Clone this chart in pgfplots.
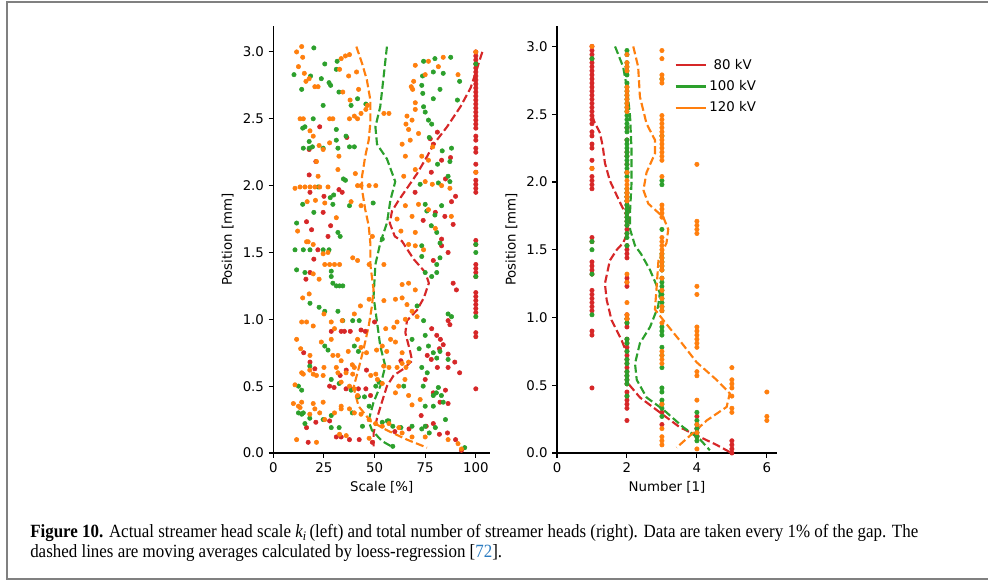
\documentclass[border=0pt]{standalone}
\usepackage{pgfplots}
\pgfplotsset{compat=1.18}
\usepackage{fontspec}
\usepackage{graphicx}
\setmainfont{DejaVu Sans}
\newfontfamily\capfont{Liberation Serif}
\definecolor{c80}{HTML}{D62728}
\definecolor{c100}{HTML}{2CA02C}
\definecolor{c120}{HTML}{FF7F0E}
\definecolor{framegray}{HTML}{808080}
\definecolor{linkblue}{HTML}{2B7BC0}
\pgfplotsset{
  myax/.style={
    scale only axis,
    axis x line*=bottom, axis y line*=left,
    tick align=outside,
    major tick length=3.5pt,
    every tick/.style={black, line width=0.8pt},
    axis line style={black, line width=0.8pt},
    tick label style={font=\fontsize{10}{12}\selectfont},
    label style={font=\fontsize{10}{12}\selectfont},
    ymin=0,
    ytick={0,0.5,1,1.5,2,2.5,3},
    yticklabels={0.0,0.5,1.0,1.5,2.0,2.5,3.0},
    ylabel={Position [mm]},
    height=320.25pt,
  },
  pts/.style={only marks, mark=*, mark size=1.65pt, color=#1, forget plot},
  loess/.style={color=#1, line width=1.6pt, dash pattern=on 6pt off 2.6pt, forget plot},
}
\begin{document}
\begin{tikzpicture}
\useasboundingbox (0,0) rectangle (741pt,435.75pt);
% frame
\draw[framegray, line width=1.5pt] (745pt,434.5pt) -- (5.5pt,434.5pt) -- (5.5pt,1.6pt) -- (745pt,1.6pt);

% ---------------- left panel ----------------
\begin{axis}[myax, at={(205pt,96pt)}, anchor=origin, width=162.5pt,
  xmin=0, xmax=107, ymax=3.194,
  xtick={0,25,50,75,100}, xticklabels={0,25,50,75,100},
  xlabel={Scale [\%]}]
% 80 kV
\addplot[pts=c80] coordinates {
(100,3.00)(100,2.97)(100,2.94)(100,2.91)(100,2.88)(100,2.85)(100,2.82)(100,2.79)(100,2.76)(100,2.73)(100,2.70)(100,2.67)(100,2.64)(100,2.61)(100,2.58)(100,2.55)(100,2.52)(100,2.49)(100,2.46)(100,2.43)(100,2.37)(100,2.34)(100,2.28)(100,2.25)(100,2.16)(100,2.10)(100,2.04)(100,2.01)(100,1.98)(100,1.95)(100,1.59)(100,1.56)(100,1.41)(100,1.38)(100,1.35)(100,1.32)(100,1.20)(100,1.17)(100,1.14)(100,1.11)(100,1.08)(100,1.05)(100,0.90)(100,0.87)(100,0.48)
(22.9,2.44)(36.3,2.36)(17.7,2.27)(21.0,2.18)(79.0,2.31)(83.1,2.19)(87.5,2.21)(81.0,2.40)(77.5,2.35)
(17.7,2.08)(18.1,1.95)(25.0,1.92)(32.4,1.97)(34.0,1.95)(78.0,2.10)(85.0,2.05)(90.0,1.92)(70.0,1.95)
(16.4,1.73)(18.9,1.67)(24.6,1.80)(28.3,1.70)(27.0,1.62)(88.0,1.88)(84.7,1.77)(88.8,1.71)(83.1,1.60)(80.0,1.80)(74.0,1.74)
(16.1,1.30)(18.1,1.35)(86.3,1.50)(83.1,1.55)(88.8,1.27)(90.4,1.22)(20.0,1.45)(79.0,1.44)(22.0,1.52)
(28.6,0.91)(33.5,0.91)(35.1,0.91)(38.0,0.91)(43.3,0.92)(45.4,0.91)(78.2,0.93)(80.7,0.88)(82.5,0.85)(86.3,0.99)(87.2,0.96)(83.9,0.81)(50.0,0.98)
(18.1,0.68)(20.5,0.63)(33.0,0.58)(36.0,0.62)(46.0,0.62)(63.0,0.69)(76.0,0.73)(78.0,0.70)(86.3,0.74)(89.6,0.68)(92.0,0.60)(86.3,0.64)(81.0,0.64)(15.0,0.75)(82.0,0.78)
(27.8,0.50)(30.0,0.49)(35.9,0.48)(38.4,0.48)(42.0,0.48)(45.7,0.48)(48.0,0.43)(75.0,0.55)(82.3,0.38)(86.3,0.37)(79.0,0.45)(85.0,0.47)
(16.4,0.19)(21.0,0.23)(27.8,0.24)(31.1,0.12)(33.5,0.12)(37.6,0.10)(42.4,0.10)(17.2,0.08)(48.9,0.08)(67.0,0.18)(73.0,0.28)(75.5,0.20)(79.0,0.22)(82.0,0.14)(86.0,0.15)(92.9,0.02)(90.0,0.10)(60.0,0.16)
};
% 100 kV
\addplot[pts=c100] coordinates {
(100,2.91)(100,1.56)(100,1.50)(100,1.32)(100,1.02)
(20.0,3.03)(25.4,2.91)(31.5,2.93)(74.2,2.93)(79.8,2.95)(87.6,2.96)
(10.2,2.83)(18.4,2.82)(14.0,2.72)(23.7,2.80)(27.5,2.77)(28.3,2.75)(31.1,2.87)(32.4,2.70)(73.7,2.82)(73.3,2.75)(79.0,2.85)(83.9,2.84)(92.0,2.78)(82.3,2.72)(73.8,2.69)
(38.4,2.60)(41.6,2.65)(24.6,2.60)(45.7,2.61)(74.2,2.59)(75.0,2.55)(76.6,2.49)(79.0,2.65)(78.2,2.46)(90.9,2.64)(19.7,2.50)(15.6,2.44)(14.5,2.43)(31.1,2.42)
(14.8,2.28)(17.7,2.28)(19.3,2.29)(24.6,2.28)(31.9,2.28)(37.6,2.29)(40.0,2.29)(17.7,2.33)(31.1,2.34)(35.9,2.37)(81.1,2.16)(88.0,2.28)(87.2,2.18)(83.4,2.26)(77.0,2.36)
(22.1,1.99)(34.6,2.05)(35.6,2.04)(72.5,2.01)(81.5,2.02)(86.3,2.07)(87.2,2.03)(28.1,1.91)(29.8,1.93)(14.5,1.86)
(29.4,1.86)(37.6,1.85)(49.3,1.87)(75.0,1.86)(75.8,1.81)(79.8,1.78)(83.1,1.85)(80.7,1.65)(82.3,1.57)(11.5,1.72)(31.9,1.65)(33.0,1.62)(53.8,1.60)(20.0,1.80)(78.0,1.70)
(10.7,1.52)(14.8,1.52)(18.1,1.52)(24.6,1.52)(27.5,1.52)(11.5,1.37)(15.6,1.35)(28.6,1.36)(28.6,1.32)(29.4,1.27)(31.1,1.25)(32.7,1.25)(34.3,1.25)(73.3,1.55)(73.3,1.47)(82.3,1.46)(80.7,1.41)(80.7,1.35)(78.2,1.32)(75.0,1.35)
(18.1,1.12)(22.6,1.09)(25.4,1.06)(31.9,1.06)(34.3,0.99)(39.2,0.99)(42.4,0.99)(74.2,0.99)(86.3,1.04)(88.0,1.02)(71.0,1.10)
(25.4,0.80)(27.0,0.77)(40.0,0.80)(42.0,0.76)(68.5,0.85)(72.0,0.78)(75.0,0.88)(76.6,0.80)(79.0,0.75)(80.7,0.71)(82.3,0.76)(73.3,0.64)(86.3,0.70)(76.0,0.60)(18.0,0.65)
(12.4,0.50)(14.0,0.47)(14.8,0.30)(28.6,0.55)(32.5,0.52)(38.4,0.47)(42.0,0.42)(45.0,0.42)(50.6,0.50)(52.2,0.53)(64.4,0.50)(74.0,0.50)(79.0,0.43)(80.5,0.45)(81.5,0.49)(83.0,0.43)(75.0,0.35)(79.0,0.35)(83.9,0.38)
(12.4,0.30)(14.0,0.29)(15.6,0.22)(18.0,0.26)(24.6,0.25)(28.6,0.28)(28.6,0.19)(32.5,0.19)(39.0,0.30)(44.0,0.20)(47.3,0.35)(53.8,0.23)(56.3,0.24)(57.0,0.24)(59.0,0.20)(63.0,0.19)(68.5,0.20)(73.3,0.18)(75.0,0.20)(77.0,0.15)(80.0,0.19)(85.0,0.25)(94.5,0.04)(59.0,0.05)
};
% 120 kV
\addplot[pts=c120] coordinates {
(100,3.00)(100,2.10)
(11.5,3.00)(14.0,3.04)(14.5,2.96)(33.5,2.95)(35.6,2.97)(37.6,2.98)(70.1,2.90)(76.6,2.93)(83.9,2.96)
(12.4,2.89)(15.3,2.84)(16.1,2.78)(17.7,2.80)(20.5,2.74)(22.1,2.74)(32.7,2.87)(37.2,2.82)(41.1,2.85)(34.3,2.70)(42.1,2.72)(69.3,2.78)(68.1,2.74)(68.8,2.72)(75.0,2.83)(81.5,2.89)(91.2,2.83)
(37.9,2.64)(46.5,2.60)(45.7,2.57)(43.3,2.54)(41.6,2.50)(37.6,2.50)(40.0,2.52)(54.6,2.54)(57.1,2.54)(13.2,2.50)(14.8,2.50)(27.8,2.50)(29.4,2.50)(66.0,2.52)(68.5,2.49)(65.5,2.46)(66.8,2.42)(70.1,2.57)(70.1,2.62)
(18.1,2.41)(19.7,2.37)(22.6,2.30)(24.6,2.27)(27.8,2.32)(63.6,2.31)(65.2,2.22)(67.6,2.34)(71.7,2.39)(73.3,2.22)(76.6,2.19)(78.7,2.29)(32.4,2.22)(21.3,2.18)
(10.7,1.98)(13.2,1.99)(15.6,1.99)(18.1,1.99)(20.5,1.99)(22.9,1.99)(27.0,1.99)(41.6,2.00)(43.3,2.00)(47.3,2.00)(50.6,2.00)(22.1,2.07)(31.9,2.12)(40.5,2.09)(75.0,2.03)(78.5,2.01)(83.1,2.00)(87.2,1.98)(70.1,2.12)(64.4,2.07)
(16.7,1.88)(20.8,1.89)(25.4,1.87)(31.1,1.76)(38.4,1.88)(43.3,1.85)(48.9,1.62)(61.1,1.75)(65.2,1.85)(68.5,1.77)(71.7,1.86)(76.6,1.82)(70.1,1.65)(16.4,1.58)(87.9,1.77)(12.0,1.66)(63.0,1.66)(80.0,1.68)
(17.2,1.58)(24.6,1.49)(27.0,1.50)(25.4,1.41)(27.8,1.41)(30.2,1.41)(32.7,1.41)(39.2,1.46)(41.6,1.44)(54.6,1.41)(47.3,1.41)(19.7,1.34)(22.6,1.30)(66.8,1.56)(70.1,1.55)(74.2,1.52)(19.7,1.56)
(14.5,1.16)(17.7,1.19)(14.0,0.98)(16.4,0.98)(19.7,0.95)(25.0,1.04)(28.6,0.98)(30.2,0.93)(40.0,1.04)(47.3,1.15)(54.6,1.14)(60.3,1.15)(63.6,1.16)(63.6,1.26)(66.8,1.27)(70.1,1.22)(66.0,1.11)(68.5,1.06)(65.2,1.00)(61.1,0.98)(55.5,0.93)(59.5,0.94)(71.0,1.02)(43.0,1.10)(34.0,0.99)
(11.5,0.85)(13.5,0.78)(18.1,0.73)(23.7,0.83)(28.6,0.85)(29.4,0.73)(31.9,0.73)(33.5,0.69)(37.0,0.76)(39.0,0.66)(40.0,0.64)(41.6,0.85)(43.3,0.79)(46.0,0.75)(51.0,0.77)(53.8,0.80)(56.0,0.76)(57.9,0.85)(60.3,0.83)(63.6,0.75)(66.8,0.68)(63.6,0.67)(61.1,0.64)(57.1,0.64)(54.5,0.65)(65.5,0.64)(25.0,0.64)(14.0,0.60)(18.0,0.62)
(10.7,0.51)(14.8,0.59)(19.7,0.59)(21.3,0.58)(24.6,0.58)(31.1,0.64)(31.9,0.60)(35.9,0.60)(39.2,0.59)(33.5,0.53)(37.6,0.50)(40.0,0.48)(41.6,0.43)(48.1,0.58)(50.6,0.59)(51.4,0.55)(53.8,0.52)(60.3,0.45)(61.9,0.50)(65.0,0.55)(66.8,0.43)(68.5,0.36)(72.5,0.40)(14.0,0.38)(12.4,0.35)(19.7,0.37)(24.6,0.38)(33.5,0.35)(18.0,0.29)
(9.9,0.37)(13.2,0.34)(20.5,0.33)(22.9,0.30)(25.4,0.25)(30.2,0.30)(33.5,0.33)(37.6,0.33)(40.0,0.30)(43.3,0.29)(47.3,0.25)(50.5,0.22)(53.8,0.20)(57.1,0.22)(62.0,0.19)(63.6,0.15)(68.5,0.12)(75.0,0.12)(21.3,0.08)(11.5,0.10)(32.7,0.14)(36.0,0.13)(86.3,0.10)(91.2,0.07)(92.9,0.03)(47.3,0.11)
};
\addplot[loess=c80] coordinates {(103.2,3.0)(99.4,2.82)(97.4,2.73)(92.4,2.59)(85.8,2.44)(79.2,2.31)(76,2.22)(71,2.09)(66,1.98)(61.9,1.89)(58.6,1.81)(57.5,1.72)(60,1.62)(63.5,1.585)(69.3,1.45)(75.1,1.35)(76.8,1.27)(74.3,1.16)(71,1.07)(66,0.99)(65.2,0.9)(67.7,0.75)(68.5,0.69)(64.4,0.63)(59.4,0.58)(56.1,0.50)(53.6,0.38)(51.2,0.26)(49.5,0.15)(49.5,0.05)};
\addplot[loess=c100] coordinates {(56.1,3.04)(54.5,2.82)(52.8,2.59)(50.4,2.44)(51.2,2.31)(56.1,2.2)(60.2,2.03)(57.8,1.89)(56.1,1.72)(52.8,1.57)(50.4,1.41)(49.5,1.17)(51.2,0.98)(52.8,0.80)(55.3,0.65)(52.8,0.50)(49.5,0.38)(47.0,0.24)(48.7,0.17)(53.6,0.09)(59.4,0.04)};
\addplot[loess=c120] coordinates {(41,3.04)(43.7,2.92)(46.2,2.79)(47.9,2.64)(47.9,2.47)(47.1,2.34)(45.4,2.22)(43.8,2.07)(43.8,1.97)(45.4,1.82)(47.1,1.70)(47.9,1.57)(47.9,1.41)(49.5,1.22)(48.7,1.10)(47.1,0.95)(44.6,0.78)(42.1,0.63)(39.6,0.49)(42.1,0.35)(47.9,0.24)(56.1,0.17)(66,0.10)(75.9,0.04)};
\end{axis}

% ---------------- right panel ----------------
\begin{axis}[myax, at={(417.75pt,96pt)}, anchor=origin, width=165pt,
  xmin=0, xmax=6.29, ymax=3.151,
  xtick={0,2,4,6}, xticklabels={0,2,4,6},
  xlabel={Number [1]},
  legend style={at={(0.515,0.936)}, anchor=north west, draw=none, fill=none,
    font=\fontsize{10}{12}\selectfont, row sep=3pt},
  legend cell align=center,
  legend image code/.code={\draw[#1, solid, line width=1.6pt] (0pt,0pt) -- (22.5pt,0pt);}]
\addplot[pts=c80] coordinates {
(1,3.00)(1,2.97)(1,2.94)(1,2.91)(1,2.88)(1,2.85)(1,2.82)(1,2.79)(1,2.76)(1,2.73)(1,2.70)(1,2.67)(1,2.64)(1,2.61)(1,2.58)(1,2.55)(1,2.52)(1,2.49)(1,2.46)(1,2.43)(1,2.37)(1,2.34)(1,2.28)(1,2.25)(1,2.16)(1,2.10)(1,2.04)(1,2.01)(1,1.98)(1,1.95)(1,1.59)(1,1.56)(1,1.41)(1,1.38)(1,1.35)(1,1.32)(1,1.20)(1,1.17)(1,1.14)(1,1.11)(1,1.08)(1,1.05)(1,0.90)(1,0.87)(1,0.48)
(2,2.40)(2,2.31)(2,2.22)(2,2.19)(2,2.13)(2,2.07)(2,1.92)(2,1.89)(2,1.86)(2,1.83)(2,1.80)(2,1.77)(2,1.74)(2,1.71)(2,1.68)(2,1.65)(2,1.62)(2,1.53)(2,1.50)(2,1.47)(2,1.44)(2,1.29)(2,1.26)(2,1.23)(2,1.02)(2,0.99)(2,0.96)(2,0.93)(2,0.84)(2,0.81)(2,0.78)(2,0.75)(2,0.72)(2,0.69)(2,0.66)(2,0.63)(2,0.60)(2,0.57)(2,0.54)(2,0.51)(2,0.45)(2,0.42)(2,0.39)(2,0.36)(2,0.33)(2,0.24)
(3,0.30)(3,0.21)(4,0.27)(4,0.18)(4,0.15)(4,0.12)(5,0.09)(5,0.06)(5,0.03)(5,0.00)
};
\addplot[pts=c100] coordinates {
(1,2.91)(1,1.56)(1,1.50)(1,1.32)(1,1.02)
(2,2.97)(2,2.94)(2,2.88)(2,2.85)(2,2.82)(2,2.79)(2,2.73)(2,2.70)(2,2.67)(2,2.64)(2,2.61)(2,2.58)(2,2.55)(2,2.52)(2,2.49)(2,2.46)(2,2.43)(2,2.40)(2,2.37)(2,2.31)(2,2.28)(2,2.25)(2,2.22)(2,2.19)(2,2.16)(2,2.13)(2,2.10)(2,2.07)(2,2.04)(2,1.95)(2,1.92)(2,1.89)(2,1.86)(2,1.83)(2,1.80)(2,1.77)(2,1.74)(2,1.71)(2,1.68)(2,1.62)(2,1.59)(2,1.53)(2,0.99)(2,0.96)(2,0.84)(2,0.81)(2,0.75)(2,0.69)(2,0.66)(2,0.60)(2,0.57)(2,0.54)(2,0.51)(2,0.42)
(3,2.76)(3,2.34)(3,2.01)(3,1.98)(3,1.65)(3,1.47)(3,1.44)(3,1.41)(3,1.38)(3,1.35)(3,1.29)(3,1.26)(3,1.23)(3,1.20)(3,1.17)(3,1.14)(3,1.11)(3,1.08)(3,1.05)(3,0.93)(3,0.90)(3,0.87)(3,0.78)(3,0.72)(3,0.63)(3,0.48)(3,0.45)(3,0.39)(3,0.36)(3,0.33)(3,0.27)
(4,0.30)(4,0.24)(4,0.21)(4,0.18)(4,0.15)(4,0.12)(4,0.09)
};
\addplot[pts=c120] coordinates {
(1,3.00)(3,2.97)(2,2.94)(3,2.91)(2,2.88)(2,2.85)(2,2.82)(3,2.79)(3,2.76)(3,2.73)(2,2.70)(2,2.67)(2,2.64)(2,2.61)(2,2.58)(2,2.55)(2,2.52)(3,2.49)(3,2.46)(3,2.43)(3,2.40)(3,2.37)(3,2.34)(3,2.31)(3,2.28)(3,2.25)(3,2.22)(3,2.19)(3,2.16)(4,2.13)(1,2.10)(2,2.07)(3,2.04)(2,2.01)(2,1.98)(2,1.95)(2,1.92)(2,1.89)(2,1.86)(3,1.83)(3,1.80)(3,1.77)(3,1.74)(4,1.71)(4,1.68)(4,1.65)(4,1.62)(3,1.59)(3,1.56)(3,1.53)(3,1.50)(3,1.47)(3,1.44)(3,1.41)(3,1.38)(3,1.35)(2,1.32)(3,1.29)(2,1.26)(4,1.23)(3,1.20)(4,1.17)(3,1.14)(2,1.11)(3,1.08)(3,1.05)(2,1.02)(2,0.99)(3,0.96)(4,0.93)(4,0.90)(4,0.87)(4,0.84)(4,0.81)(4,0.78)(3,0.75)(3,0.72)(3,0.69)(3,0.66)(5,0.63)(4,0.60)(4,0.57)(5,0.54)(5,0.51)(5,0.48)(6,0.45)(5,0.42)(4,0.39)(3,0.36)(5,0.33)(5,0.30)(6,0.27)(6,0.24)(4,0.21)(3,0.18)(4,0.15)(3,0.12)(3,0.09)(3,0.06)(4,0.03)
};
\addplot[loess=c80] coordinates {(1,3.0)(1,2.53)(1.04,2.46)(1.23,2.36)(1.31,2.26)(1.37,2.14)(1.51,2.01)(1.8,1.85)(2.01,1.74)(2.01,1.62)(1.89,1.55)(1.71,1.50)(1.51,1.42)(1.37,1.25)(1.42,1.13)(1.56,0.98)(1.85,0.83)(1.99,0.74)(2.01,0.52)(2.37,0.41)(2.99,0.29)(3.51,0.19)(3.99,0.13)(4.56,0.06)(4.99,0.0)};
\addplot[loess=c100] coordinates {(1.66,3.0)(1.89,2.85)(2.01,2.68)(2.09,2.48)(2.13,2.24)(2.13,1.99)(2.09,1.79)(2.09,1.65)(2.23,1.53)(2.4,1.47)(2.66,1.35)(2.94,1.18)(2.89,1.08)(2.66,0.93)(2.37,0.81)(2.23,0.66)(2.28,0.54)(2.56,0.41)(3.04,0.32)(3.61,0.19)(4.09,0.10)(4.37,0.02)};
\addplot[loess=c120] coordinates {(2.18,3.0)(2.32,2.85)(2.37,2.63)(2.56,2.43)(2.8,2.31)(2.8,2.21)(2.56,2.07)(2.47,1.94)(2.61,1.84)(3.04,1.74)(3.18,1.65)(3.13,1.55)(2.9,1.42)(2.85,1.23)(2.8,1.06)(3.04,0.98)(3.51,0.83)(3.99,0.67)(4.56,0.54)(4.94,0.44)(4.85,0.34)(4.28,0.24)(3.9,0.15)(3.42,0.04)};
\addlegendimage{c80}\addlegendentry{80 kV}
\addlegendimage{c100}\addlegendentry{100 kV}
\addlegendimage{c120}\addlegendentry{120 kV}
\end{axis}

% ---------------- caption ----------------
\node[anchor=base west, inner sep=0pt] at (22.5pt,{(581-538)*0.75pt}) {\resizebox{666pt}{\height}{\capfont\fontsize{14}{15}\selectfont\begin{tabular}[t]{@{}l@{}}\textbf{Figure 10.} Actual streamer head scale {\itshape k}\textsubscript{\itshape i}\,(left) and total number of streamer heads (right). Data are taken every 1\% of the gap. The\\
dashed lines are moving averages calculated by loess-regression [\textcolor{linkblue}{72}].\end{tabular}}};
\end{tikzpicture}
\end{document}
